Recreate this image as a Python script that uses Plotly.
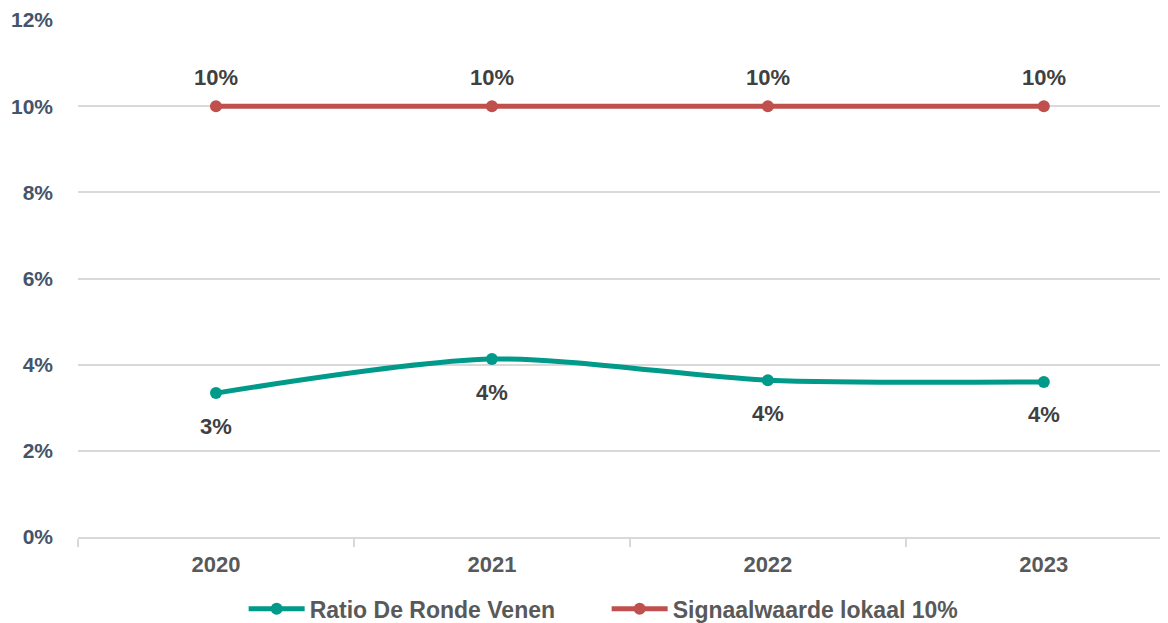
import plotly.graph_objects as go

# data
years = ["2020", "2021", "2022", "2023"]
ratio = [3.34, 4.13, 3.64, 3.60]          # Ratio De Ronde Venen (%)
signaal = [10, 10, 10, 10]                # Signaalwaarde lokaal 10% (%)
y_ticks = [0, 2, 4, 6, 8, 10, 12]

green = "#009A8A"
red = "#C0504D"
font = "Liberation Sans, Arial, sans-serif"

fig = go.Figure()

fig.add_trace(go.Scatter(
    x=years, y=ratio, name="Ratio De Ronde Venen",
    mode="lines+markers", line=dict(color=green, width=5, shape="spline", smoothing=0.8),
    marker=dict(size=12, color=green),
))
fig.add_trace(go.Scatter(
    x=years, y=signaal, name="Signaalwaarde lokaal 10%",
    mode="lines+markers", line=dict(color=red, width=5),
    marker=dict(size=12, color=red),
))

# data labels (x by category index so "2020" isn't read as a number)
label_font = dict(family=font, size=22, color="#404040", weight="bold")
for i, v in enumerate(ratio):
    fig.add_annotation(x=i, y=v, text=f"{v:.0f}%", showarrow=False, yshift=-33,
                       font=label_font)
for i, v in enumerate(signaal):
    fig.add_annotation(x=i, y=v, text=f"{v:.0f}%", showarrow=False, yshift=29,
                       font=label_font)

# page body has an 8px margin, so the figure is sized/offset to compensate
fig.update_layout(
    width=1160, height=625,
    margin=dict(l=70, r=0, t=12, b=96),
    plot_bgcolor="white", paper_bgcolor="white",
    font=dict(family=font),
    showlegend=True,
    legend=dict(orientation="h", x=0.485, xanchor="center", y=-0.139, yanchor="middle",
                font=dict(family=font, size=23, color="#595959", weight="bold"),
                itemwidth=56, entrywidth=292, traceorder="normal"),
)

fig.update_xaxes(
    type="category", range=[-0.5, 3.45],
    showgrid=False, showline=True, linecolor="#D9D9D9", linewidth=2,
    ticks="outside", tickson="boundaries", ticklen=8, tickcolor="#D9D9D9", tickwidth=1.5,
    tickfont=dict(family=font, size=22, color="#595959", weight="bold"),
    ticklabelstandoff=7,
)
fig.update_yaxes(
    range=[0, 12], tickvals=y_ticks, ticktext=[f"{t}%" for t in y_ticks],
    showgrid=True, gridcolor="#D9D9D9", gridwidth=1.5, zeroline=False, showline=False,
    tickfont=dict(family=font, size=21, color="#44546A", weight="bold"),
    ticklabelstandoff=24,
)

fig.write_html("out.html")
